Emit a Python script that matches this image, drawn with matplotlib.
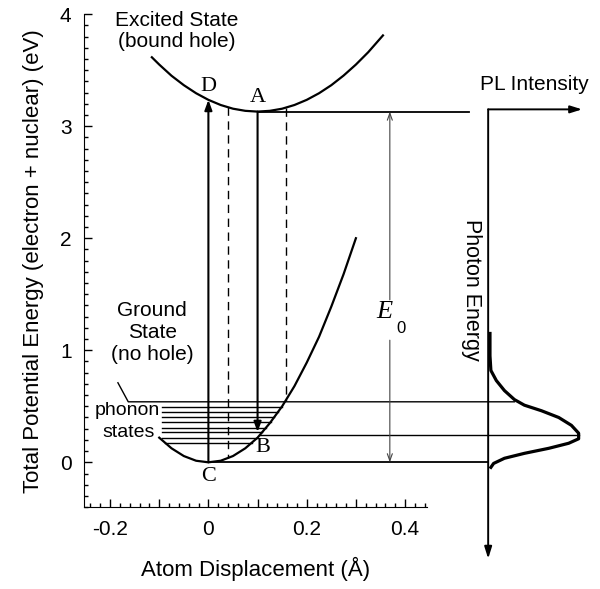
import matplotlib
matplotlib.use("Agg")
import matplotlib.pyplot as plt
import matplotlib.ticker as mticker

# configuration-coordinate curves
ground_x = [-0.10, -0.075, -0.05, -0.025, 0.0, 0.025, 0.05, 0.075, 0.10, 0.125,
            0.15, 0.175, 0.20, 0.225, 0.25, 0.275, 0.30]
ground_y = [0.22, 0.125, 0.056, 0.014, 0.0, 0.014, 0.056, 0.125, 0.22, 0.35,
            0.50, 0.68, 0.89, 1.12, 1.39, 1.68, 2.00]
excited_x = [-0.115, -0.10, -0.075, -0.05, -0.025, 0.0, 0.025, 0.05, 0.075, 0.10,
             0.125, 0.15, 0.175, 0.20, 0.225, 0.25, 0.275, 0.30, 0.325, 0.355]
excited_y = [3.615, 3.55, 3.45, 3.366, 3.294, 3.235, 3.189, 3.156, 3.137, 3.13,
             3.137, 3.156, 3.189, 3.235, 3.294, 3.366, 3.452, 3.55, 3.66, 3.81]

# phonon levels inside the ground-state well
phonon_levels = [0.17, 0.22, 0.27, 0.31, 0.36, 0.40, 0.45, 0.49]
phonon_left = [-0.088, -0.095, -0.095, -0.095, -0.095, -0.095, -0.095, -0.095]
phonon_right = [0.088, 0.100, 0.110, 0.118, 0.127, 0.134, 0.142, 0.149]

# PL spectrum (photon energy vs normalised intensity)
pl_energy = [1.15, 0.95, 0.82, 0.73, 0.64, 0.56, 0.51, 0.46, 0.40, 0.33, 0.26,
             0.21, 0.17, 0.125, 0.08, 0.036, -0.01, -0.045]
pl_intensity = [0.02, 0.02, 0.03, 0.09, 0.18, 0.29, 0.40, 0.59, 0.78, 0.92, 1.0,
                1.0, 0.89, 0.67, 0.40, 0.18, 0.06, 0.03]

E_MIN_EXC = 3.13     # point A
E_D = 3.235          # point D
E_B = 0.24           # point B / PL peak
PL_X0 = 0.569        # photon-energy axis position
PL_SCALE = 0.184     # width of the PL peak in x units

SANS = "Liberation Sans"
SERIF = "Liberation Serif"

fig = plt.figure(figsize=(6.0, 5.89), dpi=100)
ax = fig.add_axes([0.14, 0.139, 0.572, 0.837])
ax.set_xlim(-0.253, 0.445)
ax.set_ylim(-0.4, 4.0)
for s in ("top", "right"):
    ax.spines[s].set_visible(False)

lw = 1.3
ax.plot(ground_x, ground_y, color="black", lw=1.6, clip_on=False)
ax.plot(excited_x, excited_y, color="black", lw=1.6, clip_on=False)

for y, xl, xr in zip(phonon_levels, phonon_left, phonon_right):
    ax.plot([xl, xr], [y, y], color="black", lw=1.0)

# dashed turning-point lines
ax.plot([0.039, 0.039], [3.17, 0.04], color="black", lw=1.0, ls=(0, (6, 4)))
ax.plot([0.157, 0.157], [3.16, 0.55], color="black", lw=1.0, ls=(0, (6, 4)))

# absorption C -> D and emission A -> B
arrow = dict(arrowstyle="-|>,head_length=0.6,head_width=0.22", color="black", lw=1.5,
             shrinkA=0, shrinkB=0)
ax.annotate("", xy=(0.0, E_D), xytext=(0.0, 0.0), arrowprops=arrow)
ax.annotate("", xy=(0.1, 0.27), xytext=(0.1, E_MIN_EXC), arrowprops=arrow)

# horizontal guide lines
ax.plot([0.1, 0.529], [E_MIN_EXC, E_MIN_EXC], color="black", lw=lw, clip_on=False)
ax.plot([0.01, PL_X0], [0.0, 0.0], color="black", lw=lw, clip_on=False)
ax.plot([0.104, PL_X0 + PL_SCALE], [E_B, E_B], color="black", lw=1.0, clip_on=False)
ax.plot([-0.184, -0.163, PL_X0 + 0.29 * PL_SCALE], [0.71, 0.54, 0.54],
        color="black", lw=1.0, clip_on=False)

# E0 double arrow with gap for label
thin = dict(arrowstyle="->,head_length=0.5,head_width=0.18", color="#444444", lw=0.8,
            shrinkA=0, shrinkB=0)
ax.annotate("", xy=(0.369, E_MIN_EXC), xytext=(0.369, 1.45), arrowprops=thin,
            annotation_clip=False)
ax.annotate("", xy=(0.369, 0.0), xytext=(0.369, 1.09), arrowprops=thin,
            annotation_clip=False)
ax.text(0.357, 1.34, "E", fontsize=19, family=SERIF, style="italic",
        ha="center", va="center", clip_on=False)
ax.text(0.391, 1.19, "0", fontsize=12, family=SANS, ha="center", va="center",
        clip_on=False)

# PL axes
axis_arrow = dict(arrowstyle="-|>,head_length=0.7,head_width=0.22", color="black",
                  lw=1.4, shrinkA=0, shrinkB=0)
ax.annotate("", xy=(0.76, 3.15), xytext=(PL_X0, 3.15), arrowprops=axis_arrow,
            annotation_clip=False)
ax.annotate("", xy=(PL_X0, -0.86), xytext=(PL_X0, 3.15), arrowprops=axis_arrow,
            annotation_clip=False)
ax.plot([PL_X0 + v * PL_SCALE for v in pl_intensity], pl_energy, color="black",
        lw=2.3, clip_on=False)

# labels
ax.text(-0.065, 3.85, "Excited State\n(bound hole)", fontsize=15, family=SANS,
        ha="center", va="center", linespacing=1.15, clip_on=False)
ax.text(-0.114, 1.16, "Ground\nState\n(no hole)", fontsize=15, family=SANS,
        ha="center", va="center", linespacing=1.2)
ax.text(-0.165, 0.46, "phonon", fontsize=14, family=SANS, ha="center", va="center")
ax.text(-0.163, 0.27, "states", fontsize=14, family=SANS, ha="center", va="center")
ax.text(0.553, 3.37, "PL Intensity", fontsize=15, family=SANS, ha="left",
        va="center", clip_on=False)
ax.text(0.535, 1.54, "Photon Energy", fontsize=15.5, family=SANS, rotation=270,
        ha="center", va="center", clip_on=False)

for lab, x, y in [("D", 0.0, 3.35), ("A", 0.1, 3.26), ("B", 0.11, 0.13), ("C", 0.0, -0.13)]:
    ax.text(x, y, lab, fontsize=16, family=SERIF, ha="center", va="center")

# ticks
ax.xaxis.set_major_locator(mticker.MultipleLocator(0.1))
ax.xaxis.set_minor_locator(mticker.MultipleLocator(0.02))
ax.xaxis.set_major_formatter(mticker.FuncFormatter(
    lambda v, _: "" if round(v * 10) % 2 else ("0" if abs(v) < 1e-9 else f"{v:.1f}")))
ax.yaxis.set_major_locator(mticker.MultipleLocator(1))
ax.yaxis.set_minor_locator(mticker.MultipleLocator(0.1))
ax.yaxis.set_major_formatter(mticker.FuncFormatter(lambda v, _: f"{v:.0f}"))
ax.tick_params(which="both", direction="in", width=1.0)
ax.tick_params(which="major", length=6, labelsize=15)
ax.tick_params(which="minor", length=3)
ax.tick_params(axis="x", which="major", pad=9)
ax.tick_params(axis="y", which="major", pad=9)
for t in ax.get_xticklabels() + ax.get_yticklabels():
    t.set_family(SANS)

ax.set_xlabel("Atom Displacement (Å)", fontsize=16, family=SANS, labelpad=13)
ax.set_ylabel("Total Potential Energy (electron + nuclear) (eV)", fontsize=16,
              family=SANS, labelpad=11)

fig.savefig("out.png", dpi=100, facecolor="white")
